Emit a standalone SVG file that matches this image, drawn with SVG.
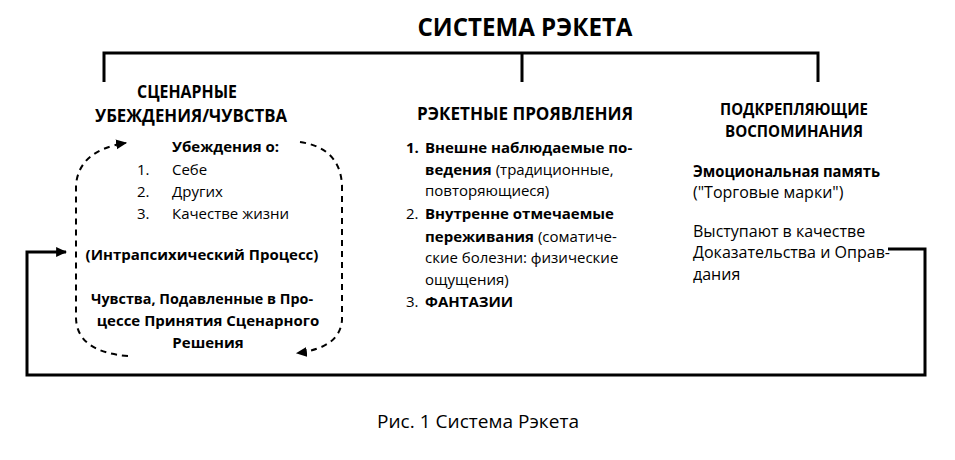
<svg xmlns="http://www.w3.org/2000/svg" width="955" height="460" viewBox="0 0 955 460">
<style>
text{font-family:"Open Sans","Noto Sans","DejaVu Sans",sans-serif;fill:#000}
.t{font-size:15px}
.r{font-size:16px}
.b{font-weight:bold}
.h{font-size:18px;font-weight:bold}
.h2{font-size:15.5px;font-weight:bold}
.ln{fill:none;stroke:#000;stroke-width:3}
.dash{fill:none;stroke:#000;stroke-width:2;stroke-dasharray:6 5}
</style>
<defs>
<marker id="ah" viewBox="0 0 10 10" refX="9" refY="5" markerWidth="11" markerHeight="11" markerUnits="userSpaceOnUse" orient="auto">
<path d="M0,0.5 L10,5 L0,9.5 z" fill="#000"/>
</marker>
</defs>
<rect width="955" height="460" fill="#fff"/>
<g id="title">
<text x="525" y="36" text-anchor="middle" font-size="25" font-weight="bold" textLength="215" lengthAdjust="spacingAndGlyphs">СИСТЕМА РЭКЕТА</text>
</g>
<g id="connectors">
<path class="ln" d="M104,82 L104,53 L818,53 L818,82 M522,53 L522,82"/>
<path class="dash" d="M128,356 Q77,352 76,318 L76,185 Q79,150 126,143" marker-end="url(#ah)"/>
<path class="dash" d="M300,142 Q340,148 342,185 L342,320 Q340,348 297,353" marker-end="url(#ah)"/>
<path class="ln" d="M888,249 L925,249 L925,375 L27,375 L27,252 L66,252" marker-end="url(#ah)"/>
</g>
<g id="node-beliefs">
<text class="h" x="187" y="98" text-anchor="middle" textLength="100" lengthAdjust="spacingAndGlyphs">СЦЕНАРНЫЕ</text>
<text class="h" x="191" y="122" text-anchor="middle" textLength="192" lengthAdjust="spacingAndGlyphs">УБЕЖДЕНИЯ/ЧУВСТВА</text>
<text class="t b" x="172" y="152">Убеждения о:</text>
<text class="t" x="137" y="175">1.</text><text class="t" x="172" y="175">Себе</text>
<text class="t" x="137" y="197">2.</text><text class="t" x="172" y="197">Других</text>
<text class="t" x="137" y="219">3.</text><text class="t" x="172" y="219">Качестве жизни</text>
<text class="t b" x="202" y="260" text-anchor="middle">(Интрапсихический Процесс)</text>
<text class="t b" x="202" y="304" text-anchor="middle" textLength="222" lengthAdjust="spacingAndGlyphs">Чувства, Подавленные в Про-</text>
<text class="t b" x="208" y="326" text-anchor="middle">цессе Принятия Сценарного</text>
<text class="t b" x="208" y="348" text-anchor="middle">Решения</text>
</g>
<g id="node-manifestations">
<text class="h" x="525" y="120" text-anchor="middle" textLength="216" lengthAdjust="spacingAndGlyphs">РЭКЕТНЫЕ ПРОЯВЛЕНИЯ</text>
<text class="t b" x="406" y="153">1.</text>
<text class="t b" x="425" y="153">Внешне наблюдаемые по-</text>
<text class="t" x="425" y="175"><tspan class="b">ведения</tspan> (традиционные,</text>
<text class="t" x="425" y="196">повторяющиеся)</text>
<text class="t" x="406" y="219">2.</text>
<text class="t b" x="425" y="219">Внутренне отмечаемые</text>
<text class="t" x="425" y="242"><tspan class="b">переживания</tspan> (соматиче-</text>
<text class="t" x="425" y="263">ские болезни: физические</text>
<text class="t" x="425" y="285">ощущения)</text>
<text class="t" x="406" y="307">3.</text>
<text class="t b" x="425" y="307">ФАНТАЗИИ</text>
</g>
<g id="node-memories">
<text class="h2" x="794" y="115" text-anchor="middle" textLength="148" lengthAdjust="spacingAndGlyphs">ПОДКРЕПЛЯЮЩИЕ</text>
<text class="h2" x="794" y="137" text-anchor="middle" textLength="138" lengthAdjust="spacingAndGlyphs">ВОСПОМИНАНИЯ</text>
<text class="r b" x="693" y="177" textLength="187" lengthAdjust="spacingAndGlyphs">Эмоциональная память</text>
<text class="r" x="693" y="198">("Торговые марки")</text>
<text class="r" x="693" y="237">Выступают в качестве</text>
<text class="r" x="693" y="258" textLength="197" lengthAdjust="spacingAndGlyphs">Доказательства и Оправ-</text>
<text class="r" x="693" y="280">дания</text>
</g>
<g id="caption">
<text x="478" y="428" text-anchor="middle" font-size="18" textLength="202" lengthAdjust="spacingAndGlyphs">Рис. 1 Система Рэкета</text>
</g>
</svg>
